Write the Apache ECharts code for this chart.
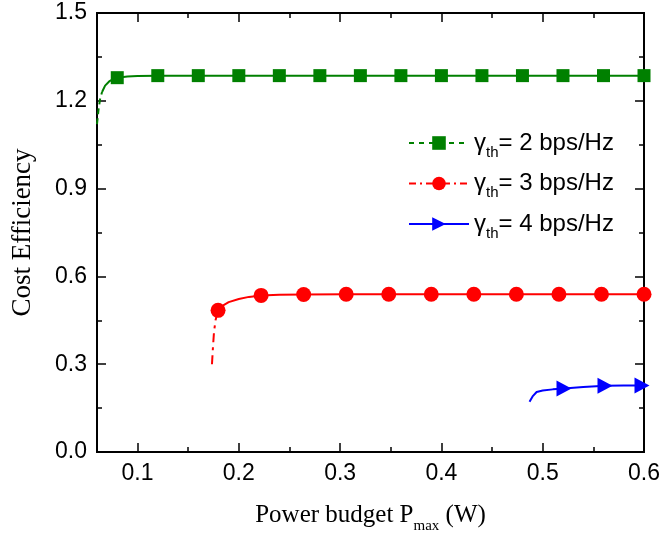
<!DOCTYPE html>
<html><head><meta charset="utf-8">
<script src="https://cdn.jsdelivr.net/npm/echarts@6/dist/echarts.min.js"></script>
<style>html,body{margin:0;padding:0;background:#fff}#c{width:663px;height:539px}</style>
</head><body><div id="c"></div>
<script>
// ---- data ----
// gamma_th = 2 bps/Hz
const greenX = [0.060,0.0615,0.063,0.065,0.068,0.072,0.076,0.080,0.090,0.100,0.120,0.160,0.200,0.240,0.280,0.320,0.360,0.400,0.440,0.480,0.520,0.560,0.600];
const greenY = [1.12,1.17,1.205,1.230,1.252,1.266,1.274,1.279,1.283,1.285,1.286,1.286,1.286,1.286,1.286,1.286,1.286,1.286,1.286,1.286,1.286,1.286,1.286];
const greenMarks = [0.080,0.120,0.160,0.200,0.240,0.280,0.320,0.360,0.400,0.440,0.480,0.520,0.560,0.600];
const greenSteepEnd = 0.065;   // sparse (visibly dashed) part ends here

// gamma_th = 3 bps/Hz
const redX = [0.1735,0.1745,0.1755,0.177,0.1795,0.185,0.190,0.200,0.210,0.222,0.240,0.264,0.306,0.348,0.390,0.432,0.474,0.516,0.558,0.600];
const redY = [0.30,0.36,0.41,0.45,0.484,0.502,0.512,0.523,0.530,0.535,0.537,0.538,0.539,0.539,0.539,0.539,0.539,0.539,0.539,0.539];
const redMarks = [0.1795,0.222,0.264,0.306,0.348,0.390,0.432,0.474,0.516,0.558,0.600];
const redSteepEnd = 0.1795;

// gamma_th = 4 bps/Hz
const blueX = [0.487,0.490,0.494,0.500,0.510,0.521,0.540,0.5615,0.580,0.598,0.600];
const blueY = [0.172,0.190,0.205,0.210,0.214,0.217,0.222,0.226,0.227,0.227,0.227];
const blueMarks = [0.521,0.5615,0.598];

const xMajorTicks = [0.1,0.2,0.3,0.4,0.5,0.6];
const xMinorTicks = [0.1,0.15,0.2,0.25,0.3,0.35,0.4,0.45,0.5,0.55,0.6];
const legendNames = ['γth= 2 bps/Hz','γth= 3 bps/Hz','γth= 4 bps/Hz'];

function build(xs, ys, marks){
  return xs.map((x,i)=>{
    const m = marks.some(v=>Math.abs(v-x)<1e-6);
    return m ? {value:[x,ys[i]]} : {value:[x,ys[i]], symbol:'none'};
  });
}
function steep(xs, ys, end){
  const out=[]; xs.forEach((x,i)=>{ if(x<=end+1e-9) out.push([x,ys[i]]); }); return out;
}
function rest(xs, ys, marks, end){
  const out=[]; xs.forEach((x,i)=>{ if(x>=end-1e-9){
    const m = marks.some(v=>Math.abs(v-x)<1e-6);
    out.push(m?{value:[x,ys[i]]}:{value:[x,ys[i]],symbol:'none'}); }}); return out;
}

const chart = echarts.init(document.getElementById('c'));
const sans = 'Liberation Sans, Arial, sans-serif';
const serif = 'Liberation Serif, Times New Roman, serif';
const black = '#000';
const lineW = 2;

function xAx(pos, ticks, len, extra){
  return Object.assign({type:'value', min:0.06, max:0.6, position:pos,
    axisLine:{onZero:false, lineStyle:{color:black, width:lineW}},
    axisTick:{inside:true, length:len, customValues:ticks, lineStyle:{color:black, width:1.5}},
    axisLabel:{show:false}, splitLine:{show:false}}, extra||{});
}
function yAx(pos, extra){
  return Object.assign({type:'value', min:0, max:1.5, interval:0.3, position:pos,
    axisLine:{onZero:false, lineStyle:{color:black, width:lineW}},
    axisTick:{inside:true, length:9, lineStyle:{color:black, width:1.5}},
    minorTick:{show:true, splitNumber:2, length:5, lineStyle:{color:black, width:1.5}},
    axisLabel:{show:false}, splitLine:{show:false}}, extra||{});
}

chart.setOption({
  animation:false,
  grid:{left:97, right:17, top:13, bottom:84},
  legend:{
    orient:'vertical', left:403, top:126, itemGap:11.5, itemWidth:60, itemHeight:17,
    data:[
      {name:legendNames[0], lineStyle:{type:[5,5], width:2}},
      {name:legendNames[1], lineStyle:{type:[7,4,2,4], width:2}},
      {name:legendNames[2], lineStyle:{type:'solid', width:2}}
    ],
    formatter:function(n){ const p=n.split('th'); return '{a|'+p[0]+'}{s|th}{a|'+p[1]+'}'; },
    textStyle:{rich:{
      a:{fontFamily:sans, fontSize:24, color:black},
      s:{fontFamily:sans, fontSize:15, color:black, verticalAlign:'bottom', lineHeight:34}
    }}
  },
  xAxis:[
    xAx('bottom', xMajorTicks, 9, {
      name:'{a|Power budget P}{s|max}{a| (W)}', nameLocation:'middle', nameGap:44,
      nameTextStyle:{rich:{a:{fontFamily:serif,fontSize:25,color:black}, s:{fontFamily:serif,fontSize:15,color:black,verticalAlign:'bottom',lineHeight:38}}},
      axisLabel:{show:true, fontFamily:sans, fontSize:23, color:black, margin:10,
        customValues:xMajorTicks, formatter:v=>v.toFixed(1)}
    }),
    xAx('bottom', xMinorTicks, 5),
    xAx('top', xMajorTicks, 9),
    xAx('top', xMinorTicks, 5)
  ],
  yAxis:[
    yAx('left', {name:'Cost Efficiency', nameLocation:'middle', nameGap:61,
      nameTextStyle:{fontFamily:serif, fontSize:27, color:black},
      axisLabel:{show:true, fontFamily:sans, fontSize:23, color:black, margin:10, formatter:v=>v.toFixed(1)}}),
    yAx('right')
  ],
  series:[
    {name:legendNames[0], type:'line', data:rest(greenX,greenY,greenMarks,greenSteepEnd), symbol:'rect', symbolSize:13,
      color:'#008000', lineStyle:{color:'#008000', width:2}, itemStyle:{color:'#008000'}},
    {name:'g-steep', type:'line', data:steep(greenX,greenY,greenSteepEnd), symbol:'none',
      lineStyle:{color:'#008000', width:2, type:[6,4]}},
    {name:legendNames[1], type:'line', data:rest(redX,redY,redMarks,redSteepEnd), symbol:'circle', symbolSize:15,
      color:'#ff0000', lineStyle:{color:'#ff0000', width:2}, itemStyle:{color:'#ff0000'}},
    {name:'r-steep', type:'line', data:steep(redX,redY,redSteepEnd), symbol:'none',
      lineStyle:{color:'#ff0000', width:2, type:[9,5,3,5]}},
    {name:legendNames[2], type:'line', data:build(blueX,blueY,blueMarks), symbol:'triangle', symbolSize:[16,15], symbolRotate:-90,
      color:'#0000ff', lineStyle:{color:'#0000ff', width:2}, itemStyle:{color:'#0000ff'}}
  ]
});
</script></body></html>
